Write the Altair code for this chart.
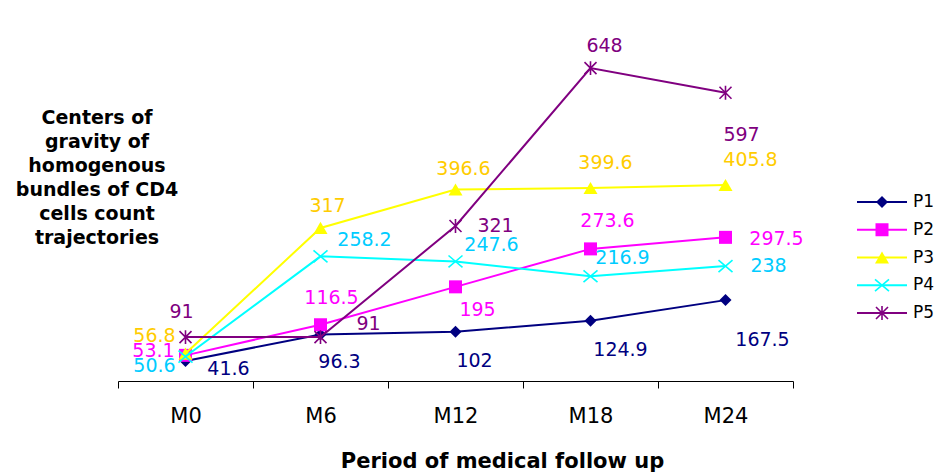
import altair as alt
import pandas as pd

# ---- data -------------------------------------------------------------
periods = ["M0", "M6", "M12", "M18", "M24"]
series_names = ["P1", "P2", "P3", "P4", "P5"]

p1 = [41.6, 96.3, 102, 124.9, 167.5]
p2 = [53.1, 116.5, 195, 273.6, 297.5]
p3 = [56.8, 317, 396.6, 399.6, 405.8]
p4 = [50.6, 258.2, 247.6, 216.9, 238]
p5 = [91, 91, 321, 648, 597]
values = [p1, p2, p3, p4, p5]

# placement of each data label relative to its marker, in pixels (right, down)
label_dx = [
    [43, 19, 19, 30, 37],
    [-32, 11, 22, 17, 51],
    [-31, 7, 8, 15, 25],
    [-31, 44, 36, 32, 43],
    [-4, 48, 40, 14, 16],
]
label_dy = [
    [8, 27, 29, 29, 40],
    [-4, -27, 23, -28, 2],
    [-18, -22, -20, -25, -25],
    [9, -16, -16, -18, 0],
    [-25, -13, 0, -22, 42],
]

line_colors = ["#000080", "#FF00FF", "#FFFF00", "#00FFFF", "#800080"]
text_colors = ["#000080", "#FF00FF", "#FFCC00", "#00CCFF", "#800080"]

caption_lines = ["Centers of", "gravity of", "homogenous",
                 "bundles of CD4", "cells count", "trajectories"]
x_title = "Period of medical follow up"

FONT = "DejaVu Sans"

# ---- geometry -----------------------------------------------------------
W, H = 675, 338
Y_MAX = 700
band = W / len(periods)
px_per_unit = H / Y_MAX

rows = []
for s, vals, dxs, dys in zip(series_names, values, label_dx, label_dy):
    for i, (p, v, dx, dy) in enumerate(zip(periods, vals, dxs, dys)):
        rows.append(dict(
            series=s, period=p, pos=i + 0.5, value=v, label=f"{v:g}",
            lx=i + 0.5 + dx / band, ly=v - dy / px_per_unit,
        ))
df = pd.DataFrame(rows)

x_scale = alt.Scale(domain=[0, len(periods)], nice=False, zero=False)
y_scale = alt.Scale(domain=[0, Y_MAX], nice=False, zero=False)

period_array = "[" + ",".join(f"'{p}'" for p in periods) + "]"
x_axis = alt.Axis(
    values=[k / 2 for k in range(2 * len(periods) + 1)],
    labelExpr=f"datum.value % 1 == 0.5 ? {period_array}[floor(datum.value)] : ''",
    tickOpacity={"condition": {"test": "datum.value % 1 != 0", "value": 0}, "value": 1},
    grid=False,
    domainColor="black", domainWidth=1,
    tickColor="black", tickWidth=1, tickSize=7,
    labelFont=FONT, labelFontSize=21, labelColor="black", labelPadding=17,
    labelOverlap=False, labelFlush=False, labelBound=False,
    title=x_title, titleFont=FONT, titleFontSize=21, titleFontWeight="bold",
    titleColor="black", titleX=384, titleY=80, titleAlign="center",
    titleBaseline="middle",
)

marker = {
    "P1": dict(shape="diamond", filled=True, size=144),
    "P2": dict(shape="square", filled=True, size=169),
    "P3": dict(shape="triangle-up", filled=True, size=196),
    "P4": dict(shape="M-1,-0.85L1,0.85M-1,0.85L1,-0.85", filled=False,
               size=196, strokeWidth=1.6),
    "P5": dict(shape="M-1,-1L1,1M-1,1L1,-1M0,-1.15L0,1.15", filled=False,
               size=144, strokeWidth=1.6),
}

# ---- series: line, markers, then value labels ---------------------------
main_layers = []
for i, s in enumerate(series_names):
    sub = alt.Chart(df).transform_filter(alt.datum.series == s)
    line = sub.mark_line(color=line_colors[i], strokeWidth=2).encode(
        x=alt.X("pos:Q", scale=x_scale, axis=x_axis),
        y=alt.Y("value:Q", scale=y_scale, axis=None),
    )
    pts = sub.mark_point(color=line_colors[i], opacity=1, **marker[s]).encode(
        x=alt.X("pos:Q", scale=x_scale, axis=x_axis),
        y=alt.Y("value:Q", scale=y_scale, axis=None),
    )
    txt = sub.mark_text(
        color=text_colors[i], font=FONT, fontSize=19,
        align="center", baseline="middle",
    ).encode(
        x=alt.X("lx:Q", scale=x_scale, axis=x_axis),
        y=alt.Y("ly:Q", scale=y_scale, axis=None),
        text="label:N",
    )
    main_layers += [line, pts, txt]

caption = alt.Chart(alt.Data(values=[{}])).mark_text(
    text=caption_lines, font=FONT, fontSize=19, fontWeight="bold",
    align="center", baseline="alphabetic", lineHeight=24, color="black",
).encode(x=alt.value(-21), y=alt.value(81))
main_layers.append(caption)

# ---- legend -------------------------------------------------------------
leg_df = pd.DataFrame({"series": series_names})
leg_y = alt.Y("series:N", axis=None,
              scale=alt.Scale(type="point", domain=series_names,
                              range=[159, 270], padding=0))
leg_color = alt.Color("series:N", legend=None,
                      scale=alt.Scale(domain=series_names, range=line_colors))

legend_layers = [
    alt.Chart(leg_df).mark_rule(strokeWidth=2).encode(
        x=alt.value(739), x2=alt.value(789), y=leg_y, color=leg_color)
]
for i, s in enumerate(series_names):
    legend_layers.append(
        alt.Chart(leg_df).transform_filter(alt.datum.series == s)
        .mark_point(color=line_colors[i], opacity=1, **marker[s])
        .encode(x=alt.value(764), y=leg_y)
    )
legend_layers.append(
    alt.Chart(leg_df).mark_text(
        font=FONT, fontSize=17, align="left", baseline="middle", color="black"
    ).encode(x=alt.value(795), y=leg_y, text="series:N")
)

chart = (
    alt.layer(alt.layer(*main_layers), alt.layer(*legend_layers))
    .resolve_scale(y="independent")
    .properties(
        width=W, height=H,
        padding={"left": 118, "top": 43, "right": 147, "bottom": 93},
        autosize=alt.AutoSizeParams(type="none"),
        background="white",
    )
    .configure_view(stroke=None)
)

chart.save("out.html", embed_options={"renderer": "svg", "actions": False})
